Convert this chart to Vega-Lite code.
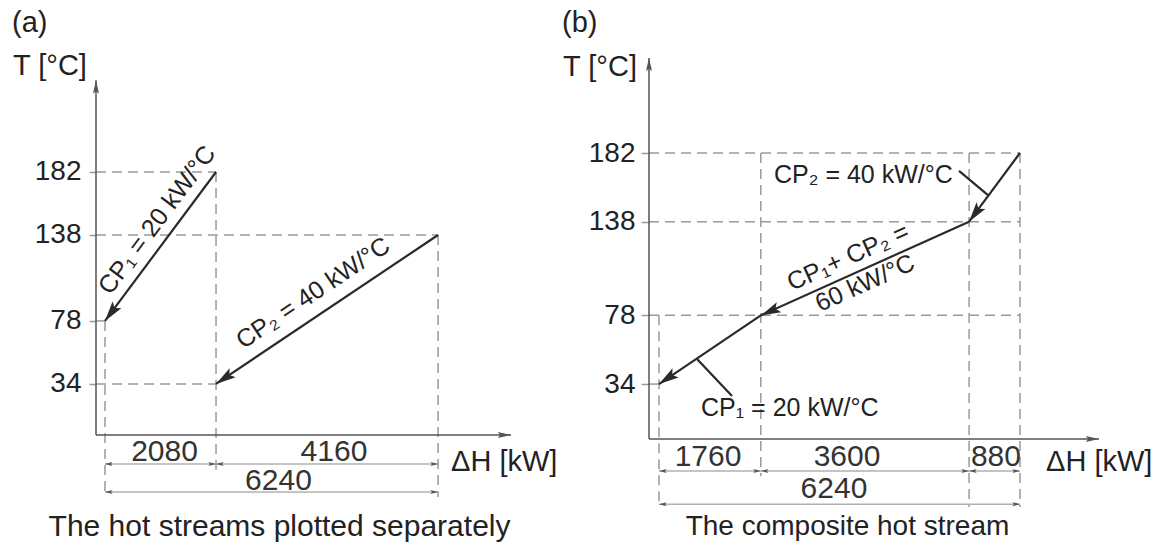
{
  "$schema": "https://vega.github.io/schema/vega-lite/v6.json",
  "padding": {"left": 11, "top": 0, "right": 5, "bottom": 0},
  "background": "white",
  "config": {"view": {"stroke": null}, "font": "Liberation Sans", "text": {"font": "Liberation Sans"}},
  "bounds": "flush",
  "spacing": 138,
  "datasets": {
    "A": [
      {"kind": "guide", "dH": -168.6, "T": 182, "dH2": 2080, "T2": 182},
      {"kind": "guide", "dH": -168.6, "T": 138, "dH2": 6240, "T2": 138},
      {"kind": "guide", "dH": -168.6, "T": 78, "dH2": 0, "T2": 78},
      {"kind": "guide", "dH": -168.6, "T": 34, "dH2": 2080, "T2": 34},
      {"kind": "guide", "dH": 0, "T": 78, "dH2": 0, "T2": -45},
      {"kind": "guide", "dH": 2080, "T": 182, "dH2": 2080, "T2": -26},
      {"kind": "guide", "dH": 6240, "T": 138, "dH2": 6240, "T2": -45},
      {"kind": "axis", "dH": -168.6, "T": -1.7, "dH2": 7607, "T2": -1.7},
      {"kind": "axis", "dH": -168.6, "T": -1.7, "dH2": -168.6, "T2": 246},
      {"kind": "xhead", "dH": 7607, "T": -1.7},
      {"kind": "yhead", "dH": -168.6, "T": 246},
      {"kind": "stream", "label": "CP1", "dH": 2080, "T": 182, "dH2": 0, "T2": 78},
      {"kind": "stream", "label": "CP2", "dH": 6240, "T": 138, "dH2": 2080, "T2": 34},
      {"kind": "head", "label": "CP1", "dH": 0, "T": 78},
      {"kind": "head", "label": "CP2", "dH": 2080, "T": 34},
      {"kind": "dim", "dH": 0, "T": -21.9, "dH2": 2080, "T2": -21.9},
      {"kind": "dim", "dH": 2080, "T": -21.9, "dH2": 6240, "T2": -21.9},
      {"kind": "dim", "dH": 0, "T": -41.5, "dH2": 6240, "T2": -41.5},
      {"kind": "dimlabel", "label": "2080", "dH": 1115, "T": -13.5},
      {"kind": "dimlabel", "label": "4160", "dH": 4290, "T": -13.5},
      {"kind": "dimlabel", "label": "6240", "dH": 3250, "T": -33.8},
      {"kind": "text", "label": "(a)", "dH": -1743, "T": 286},
      {"kind": "text", "label": "T [°C]", "dH": -1724, "T": 256},
      {"kind": "text", "label": "ΔH [kW]", "dH": 6483, "T": -20.5},
      {"kind": "caption", "label": "The hot streams plotted separately", "dH": 3270, "T": -65.9},
      {"kind": "cp1", "label": "CP₁ = 20 kW/°C", "dH": 974, "T": 148.5},
      {"kind": "cp2", "label": "CP₂ = 40 kW/°C", "dH": 3897, "T": 97.5}
    ],
    "B": [
      {"kind": "guide", "dH": -172.9, "T": 182, "dH2": 6240, "T2": 182},
      {"kind": "guide", "dH": -172.9, "T": 138, "dH2": 6240, "T2": 138},
      {"kind": "guide", "dH": -172.9, "T": 78, "dH2": 6240, "T2": 78},
      {"kind": "guide", "dH": -172.9, "T": 34, "dH2": 0, "T2": 34},
      {"kind": "guide", "dH": 0, "T": 78, "dH2": 0, "T2": -44.8},
      {"kind": "guide", "dH": 1760, "T": 182, "dH2": 1760, "T2": -24.9},
      {"kind": "guide", "dH": 5360, "T": 182, "dH2": 5360, "T2": -44.8},
      {"kind": "guide", "dH": 6240, "T": 182, "dH2": 6240, "T2": -44.8},
      {"kind": "axis", "dH": -172.9, "T": -1.2, "dH2": 7606, "T2": -1.2},
      {"kind": "axis", "dH": -172.9, "T": -1.2, "dH2": -172.9, "T2": 242.9},
      {"kind": "xhead", "dH": 7606, "T": -1.2},
      {"kind": "yhead", "dH": -172.9, "T": 242.9},
      {"kind": "stream", "label": "CP2", "dH": 6240, "T": 182, "dH2": 5360, "T2": 138},
      {"kind": "stream", "label": "CP12", "dH": 5360, "T": 138, "dH2": 1760, "T2": 78},
      {"kind": "stream", "label": "CP1", "dH": 1760, "T": 78, "dH2": 0, "T2": 34},
      {"kind": "head", "label": "CP2", "dH": 5360, "T": 138},
      {"kind": "head", "label": "CP12", "dH": 1760, "T": 78},
      {"kind": "head", "label": "CP1", "dH": 0, "T": 34},
      {"kind": "leader", "dH": 5186, "T": 170.5, "dH2": 5687, "T2": 155},
      {"kind": "leader", "dH": 1262, "T": 26.3, "dH2": 657, "T2": 50},
      {"kind": "dim", "dH": 0, "T": -21.7, "dH2": 1760, "T2": -21.7},
      {"kind": "dim", "dH": 1760, "T": -21.7, "dH2": 5360, "T2": -21.7},
      {"kind": "dim", "dH": 5360, "T": -21.7, "dH2": 6240, "T2": -21.7},
      {"kind": "dim", "dH": 0, "T": -42.9, "dH2": 6240, "T2": -42.9},
      {"kind": "dimlabel", "label": "1760", "dH": 847, "T": -12.7},
      {"kind": "dimlabel", "label": "3600", "dH": 3250, "T": -12.7},
      {"kind": "dimlabel", "label": "880", "dH": 5825, "T": -12.7},
      {"kind": "dimlabel", "label": "6240", "dH": 3025, "T": -33.2},
      {"kind": "text", "label": "(b)", "dH": -1677, "T": 265},
      {"kind": "text", "label": "T [°C]", "dH": -1659, "T": 237.1},
      {"kind": "text", "label": "ΔH [kW]", "dH": 6690, "T": -15.9},
      {"kind": "caption", "label": "The composite hot stream", "dH": 3258, "T": -57.6},
      {"kind": "cptext", "label": "CP₂ = 40 kW/°C", "dH": 1988, "T": 167.9},
      {"kind": "cptext", "label": "CP₁ = 20 kW/°C", "dH": 726, "T": 18.6},
      {"kind": "cprot", "label": "CP₁+ CP₂ =", "dH": 3267, "T": 115.4},
      {"kind": "cprot", "label": "60 kW/°C", "dH": 3561, "T": 98.7}
    ]
  },
  "hconcat": [
    {
      "width": 415,
      "height": 548,
      "data": {"name": "A"},
      "encoding": {
        "x": {"field": "dH", "type": "quantitative", "scale": {"domain": [-168.6, 7607], "nice": false, "zero": false}, "axis": null},
        "y": {"field": "T", "type": "quantitative", "scale": {"domain": [-80.6, 302.1], "nice": false, "zero": false},
              "axis": {"values": [34, 78, 138, 182], "domain": false, "grid": false, "ticks": true, "tickSize": 7, "tickColor": "#9a9a9a", "tickWidth": 1.5, "labelFontSize": 28, "labelColor": "#222", "labelPadding": 8, "labelFont": "Liberation Sans", "title": null}}
      },
      "layer": [
        {"transform": [{"filter": "datum.kind === 'guide'"}], "mark": {"type": "rule", "color": "#9a9a9a", "strokeWidth": 1.5, "strokeDash": [10, 6]}, "encoding": {"x2": {"field": "dH2"}, "y2": {"field": "T2"}}},
        {"transform": [{"filter": "datum.kind === 'dim'"}], "mark": {"type": "rule", "color": "#b0b0b0", "strokeWidth": 1.5}, "encoding": {"x2": {"field": "dH2"}, "y2": {"field": "T2"}}},
        {"transform": [{"filter": "datum.kind === 'dim'"}], "mark": {"type": "point", "shape": "M0,0 L0.5,1.9 L0,1.5 L-0.5,1.9 Z", "size": 64, "filled": true, "opacity": 1, "color": "#555", "angle": 270}},
        {"transform": [{"filter": "datum.kind === 'dim'"}], "mark": {"type": "point", "shape": "M0,0 L0.5,1.9 L0,1.5 L-0.5,1.9 Z", "size": 64, "filled": true, "opacity": 1, "color": "#555", "angle": 90},
         "encoding": {"x": {"field": "dH2", "type": "quantitative", "scale": {"domain": [-168.6, 7607], "nice": false, "zero": false}, "axis": null}}},
        {"transform": [{"filter": "datum.kind === 'dimlabel'"}], "mark": {"type": "text", "fontSize": 30, "color": "#333", "align": "center", "baseline": "middle"}, "encoding": {"text": {"field": "label"}}},
        {"transform": [{"filter": "datum.kind === 'axis'"}], "mark": {"type": "rule", "color": "#555", "strokeWidth": 1.5}, "encoding": {"x2": {"field": "dH2"}, "y2": {"field": "T2"}}},
        {"transform": [{"filter": "datum.kind === 'xhead'"}], "mark": {"type": "point", "shape": "M0,0 L0.5,2.2 L0,1.8 L-0.5,2.2 Z", "size": 144, "filled": true, "opacity": 1, "color": "#555", "angle": 90}},
        {"transform": [{"filter": "datum.kind === 'yhead'"}], "mark": {"type": "point", "shape": "M0,0 L0.5,2.2 L0,1.8 L-0.5,2.2 Z", "size": 144, "filled": true, "opacity": 1, "color": "#555", "angle": 0}},
        {"transform": [{"filter": "datum.kind === 'stream'"}], "mark": {"type": "rule", "color": "#2a2a2a", "strokeWidth": 2.2}, "encoding": {"x2": {"field": "dH2"}, "y2": {"field": "T2"}}},
        {"transform": [{"filter": "datum.kind === 'head' && datum.label === 'CP1'"}], "mark": {"type": "point", "shape": "M0,0 L0.55,2 L0,1.6 L-0.55,2 Z", "size": 400, "filled": true, "opacity": 1, "color": "#2a2a2a", "angle": 216.7}},
        {"transform": [{"filter": "datum.kind === 'head' && datum.label === 'CP2'"}], "mark": {"type": "point", "shape": "M0,0 L0.55,2 L0,1.6 L-0.55,2 Z", "size": 400, "filled": true, "opacity": 1, "color": "#2a2a2a", "angle": 236.2}},
        {"transform": [{"filter": "datum.kind === 'cp1'"}], "mark": {"type": "text", "fontSize": 25, "color": "#222", "align": "center", "baseline": "middle", "angle": 306.7}, "encoding": {"text": {"field": "label"}}},
        {"transform": [{"filter": "datum.kind === 'cp2'"}], "mark": {"type": "text", "fontSize": 25, "color": "#222", "align": "center", "baseline": "middle", "angle": 326.1}, "encoding": {"text": {"field": "label"}}},
        {"transform": [{"filter": "datum.kind === 'text'"}], "mark": {"type": "text", "fontSize": 29, "color": "#222", "align": "left", "baseline": "middle"}, "encoding": {"text": {"field": "label"}}},
        {"transform": [{"filter": "datum.kind === 'caption'"}], "mark": {"type": "text", "fontSize": 30, "color": "#222", "align": "center", "baseline": "middle"}, "encoding": {"text": {"field": "label"}}}
      ]
    },
    {
      "width": 450,
      "height": 548,
      "data": {"name": "B"},
      "encoding": {
        "x": {"field": "dH", "type": "quantitative", "scale": {"domain": [-172.9, 7606], "nice": false, "zero": false}, "axis": null},
        "y": {"field": "T", "type": "quantitative", "scale": {"domain": [-71.0, 280.0], "nice": false, "zero": false},
              "axis": {"values": [34, 78, 138, 182], "domain": false, "grid": false, "ticks": true, "tickSize": 8, "tickColor": "#9a9a9a", "tickWidth": 1.5, "labelFontSize": 28, "labelColor": "#222", "labelPadding": 6, "labelFont": "Liberation Sans", "title": null}}
      },
      "layer": [
        {"transform": [{"filter": "datum.kind === 'guide'"}], "mark": {"type": "rule", "color": "#9a9a9a", "strokeWidth": 1.5, "strokeDash": [10, 6]}, "encoding": {"x2": {"field": "dH2"}, "y2": {"field": "T2"}}},
        {"transform": [{"filter": "datum.kind === 'dim'"}], "mark": {"type": "rule", "color": "#b0b0b0", "strokeWidth": 1.5}, "encoding": {"x2": {"field": "dH2"}, "y2": {"field": "T2"}}},
        {"transform": [{"filter": "datum.kind === 'dim'"}], "mark": {"type": "point", "shape": "M0,0 L0.5,1.9 L0,1.5 L-0.5,1.9 Z", "size": 64, "filled": true, "opacity": 1, "color": "#555", "angle": 270}},
        {"transform": [{"filter": "datum.kind === 'dim'"}], "mark": {"type": "point", "shape": "M0,0 L0.5,1.9 L0,1.5 L-0.5,1.9 Z", "size": 64, "filled": true, "opacity": 1, "color": "#555", "angle": 90},
         "encoding": {"x": {"field": "dH2", "type": "quantitative", "scale": {"domain": [-172.9, 7606], "nice": false, "zero": false}, "axis": null}}},
        {"transform": [{"filter": "datum.kind === 'dimlabel'"}], "mark": {"type": "text", "fontSize": 30, "color": "#333", "align": "center", "baseline": "middle"}, "encoding": {"text": {"field": "label"}}},
        {"transform": [{"filter": "datum.kind === 'axis'"}], "mark": {"type": "rule", "color": "#555", "strokeWidth": 1.5}, "encoding": {"x2": {"field": "dH2"}, "y2": {"field": "T2"}}},
        {"transform": [{"filter": "datum.kind === 'xhead'"}], "mark": {"type": "point", "shape": "M0,0 L0.5,2.2 L0,1.8 L-0.5,2.2 Z", "size": 144, "filled": true, "opacity": 1, "color": "#555", "angle": 90}},
        {"transform": [{"filter": "datum.kind === 'yhead'"}], "mark": {"type": "point", "shape": "M0,0 L0.5,2.2 L0,1.8 L-0.5,2.2 Z", "size": 144, "filled": true, "opacity": 1, "color": "#555", "angle": 0}},
        {"transform": [{"filter": "datum.kind === 'stream' || datum.kind === 'leader'"}], "mark": {"type": "rule", "color": "#2a2a2a", "strokeWidth": 2.2}, "encoding": {"x2": {"field": "dH2"}, "y2": {"field": "T2"}}},
        {"transform": [{"filter": "datum.kind === 'head' && datum.label === 'CP2'"}], "mark": {"type": "point", "shape": "M0,0 L0.55,2 L0,1.6 L-0.55,2 Z", "size": 400, "filled": true, "opacity": 1, "color": "#2a2a2a", "angle": 216.5}},
        {"transform": [{"filter": "datum.kind === 'head' && datum.label === 'CP12'"}], "mark": {"type": "point", "shape": "M0,0 L0.55,2 L0,1.6 L-0.55,2 Z", "size": 400, "filled": true, "opacity": 1, "color": "#2a2a2a", "angle": 245.8}},
        {"transform": [{"filter": "datum.kind === 'head' && datum.label === 'CP1'"}], "mark": {"type": "point", "shape": "M0,0 L0.55,2 L0,1.6 L-0.55,2 Z", "size": 400, "filled": true, "opacity": 1, "color": "#2a2a2a", "angle": 236}},
        {"transform": [{"filter": "datum.kind === 'cptext'"}], "mark": {"type": "text", "fontSize": 25, "color": "#222", "align": "left", "baseline": "middle"}, "encoding": {"text": {"field": "label"}}},
        {"transform": [{"filter": "datum.kind === 'cprot'"}], "mark": {"type": "text", "fontSize": 25, "color": "#222", "align": "center", "baseline": "middle", "angle": 335.8}, "encoding": {"text": {"field": "label"}}},
        {"transform": [{"filter": "datum.kind === 'text'"}], "mark": {"type": "text", "fontSize": 29, "color": "#222", "align": "left", "baseline": "middle"}, "encoding": {"text": {"field": "label"}}},
        {"transform": [{"filter": "datum.kind === 'caption'"}], "mark": {"type": "text", "fontSize": 28, "color": "#222", "align": "center", "baseline": "middle"}, "encoding": {"text": {"field": "label"}}}
      ]
    }
  ]
}
